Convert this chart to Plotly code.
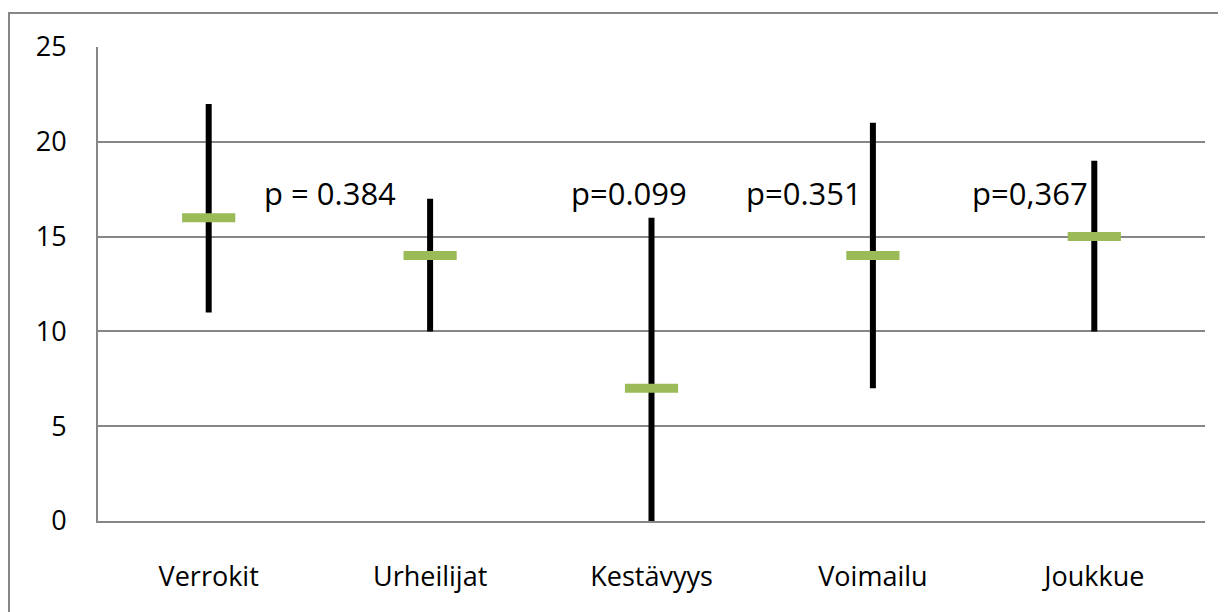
import plotly.graph_objects as go

categories = ["Verrokit", "Urheilijat", "Kestävyys", "Voimailu", "Joukkue"]
high = [22, 17, 16, 21, 19]
low = [11, 10, 0, 7, 10]
median = [16, 14, 7, 14, 15]
p_texts = ["p = 0.384", "p=0.099", "p=0.351", "p=0,367"]
y_ticks = [0, 5, 10, 15, 20, 25]

FONT = "Open Sans"
GRID = "#868686"

fig = go.Figure()
fig.add_trace(go.Scatter(
    x=categories, y=median, mode="markers",
    marker=dict(size=1, opacity=0),
    error_y=dict(type="data", symmetric=False,
                 array=[h - m for h, m in zip(high, median)],
                 arrayminus=[m - l for m, l in zip(median, low)],
                 thickness=6, width=0, color="black"),
    showlegend=False, hoverinfo="skip"))
fig.add_trace(go.Scatter(
    x=categories, y=median, mode="markers",
    marker=dict(symbol="line-ew", size=38, line=dict(width=9, color="#9BBB59"), color="#9BBB59"),
    showlegend=False))

ann_x = [0.55, 1.90, 2.69, 3.71]
ann_y = [17.3, 17.3, 17.3, 17.3]
for t, ax_, ay_ in zip(p_texts, ann_x, ann_y):
    fig.add_annotation(x=ax_, y=ay_, xref="x", yref="y", text=t, showarrow=False,
                       font=dict(family=FONT, size=31, color="black"))

fig.add_shape(type="rect", xref="paper", yref="paper",
              x0=(1 - 90) / 1107, x1=(1260 - 90) / 1107,
              y0=(513 - 640) / 474, y1=(513 - 5) / 474,
              line=dict(color=GRID, width=2), layer="below")

fig.update_layout(
    width=1218, height=604,
    margin=dict(l=90, r=21, t=39, b=91),
    paper_bgcolor="white", plot_bgcolor="white",
    font=dict(family=FONT, color="black"),
    xaxis=dict(type="category", range=[-0.5, 4.5], showgrid=False,
               showline=True, linecolor=GRID, linewidth=2, ticks="",
               tickfont=dict(size=27, family=FONT), ticklabelstandoff=31),
    yaxis=dict(range=[0, 25], tickvals=y_ticks, showgrid=True, gridcolor=GRID, gridwidth=1.5,
               showline=True, linecolor=GRID, linewidth=2, ticks="", zeroline=False,
               tickfont=dict(size=27, family=FONT), ticklabelstandoff=24),
)

fig.write_html("out.html")
